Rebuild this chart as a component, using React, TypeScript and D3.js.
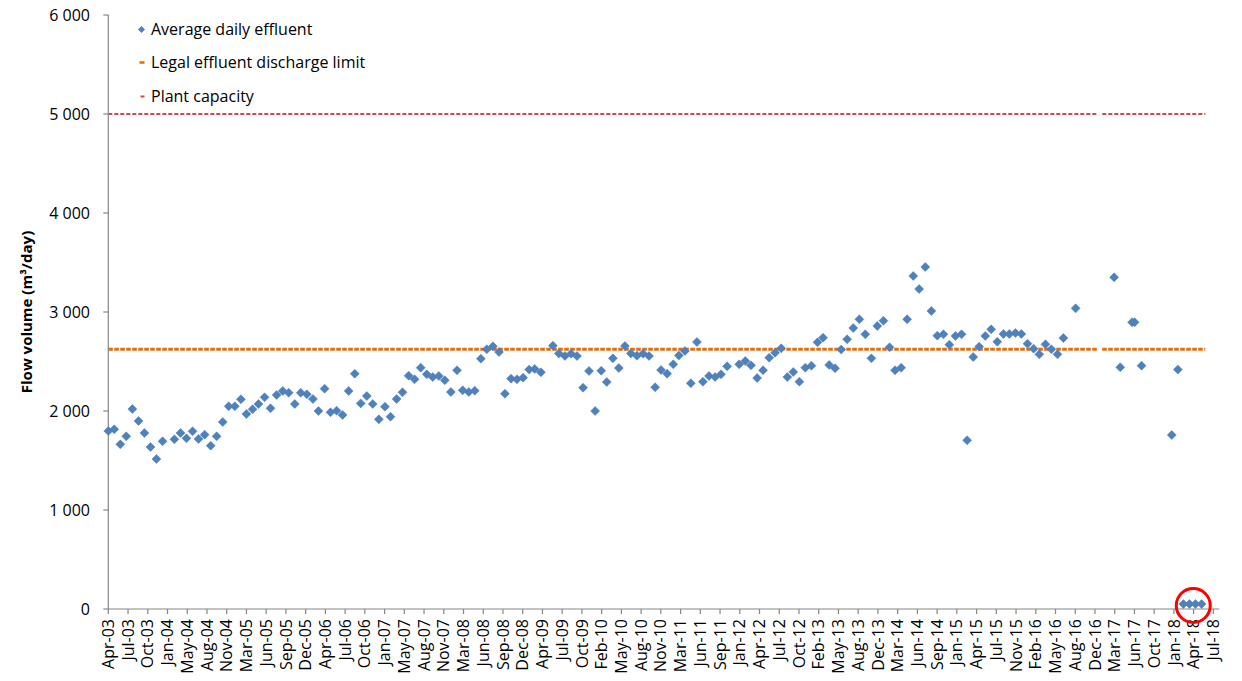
import React from "react";
import * as d3 from "d3";

// ---------- data ----------
const effluentDates = [
  "2003-04-01","2003-05-01","2003-06-01","2003-07-01","2003-08-01","2003-09-01","2003-10-01","2003-11-01","2003-12-01",
  "2004-01-01","2004-03-01","2004-04-01","2004-05-01","2004-06-01","2004-07-01","2004-08-01","2004-09-01","2004-10-01","2004-11-01","2004-12-01",
  "2005-01-01","2005-02-01","2005-03-01","2005-04-01","2005-05-01","2005-06-01","2005-07-01","2005-08-01","2005-09-01","2005-10-01","2005-11-01","2005-12-01",
  "2006-01-01","2006-02-01","2006-03-01","2006-04-01","2006-05-01","2006-06-01","2006-07-01","2006-08-01","2006-09-01","2006-10-01","2006-11-01","2006-12-01",
  "2007-01-01","2007-02-01","2007-03-01","2007-04-01","2007-05-01","2007-06-01","2007-07-01","2007-08-01","2007-09-01","2007-10-01","2007-11-01","2007-12-01",
  "2008-01-01","2008-02-01","2008-03-01","2008-04-01","2008-05-01","2008-06-01","2008-07-01","2008-08-01","2008-09-01","2008-10-01","2008-11-01","2008-12-01",
  "2009-01-01","2009-02-01","2009-03-01","2009-04-01","2009-06-01","2009-07-01","2009-08-01","2009-09-01","2009-10-01","2009-11-01","2009-12-01",
  "2010-01-01","2010-02-01","2010-03-01","2010-04-01","2010-05-01","2010-06-01","2010-07-01","2010-08-01","2010-09-01","2010-10-01","2010-11-01","2010-12-01",
  "2011-01-01","2011-02-01","2011-03-01","2011-04-01","2011-05-01","2011-06-01","2011-07-01","2011-08-01","2011-09-01","2011-10-01","2011-11-01",
  "2012-01-01","2012-02-01","2012-03-01","2012-04-01","2012-05-01","2012-06-01","2012-07-01","2012-08-01","2012-09-01","2012-10-01","2012-11-01","2012-12-01",
  "2013-01-01","2013-02-01","2013-03-01","2013-04-01","2013-05-01","2013-06-01","2013-07-01","2013-08-01","2013-09-01","2013-10-01","2013-11-01","2013-12-01",
  "2014-01-01","2014-02-01","2014-03-01","2014-04-01","2014-05-01","2014-06-01","2014-07-01","2014-08-01","2014-09-01","2014-10-01","2014-11-01","2014-12-01",
  "2015-01-01","2015-02-01","2015-03-01","2015-04-01","2015-05-01","2015-06-01","2015-07-01","2015-08-01","2015-09-01","2015-10-01","2015-11-01","2015-12-01",
  "2016-01-01","2016-02-01","2016-03-01","2016-04-01","2016-05-01","2016-06-01","2016-07-01","2016-09-01",
  "2017-03-15","2017-04-15","2017-06-14","2017-06-27","2017-08-01",
  "2018-01-01","2018-02-01","2018-03-01","2018-04-01","2018-05-01","2018-06-01",
];

const effluentValues = [
  1798, 1815, 1663, 1744, 2020, 1899, 1778, 1636, 1515,
  1694, 1714, 1778, 1724, 1795, 1717, 1761, 1650, 1744, 1889, 2047,
  2047, 2118, 1970, 2017, 2071, 2138, 2027, 2162, 2202, 2185, 2071, 2185,
  2168, 2121, 2000, 2226, 1987, 2003, 1960, 2202, 2377, 2077, 2151, 2071,
  1916, 2044, 1943, 2121, 2189, 2357, 2320, 2438, 2370, 2343, 2354, 2310,
  2192, 2411, 2209, 2192, 2205, 2529, 2623, 2653, 2596, 2175, 2327, 2320,
  2337, 2418, 2424, 2391, 2660, 2582, 2556, 2579, 2556, 2236, 2404,
  2000, 2407, 2293, 2532, 2434, 2657, 2582, 2559, 2579, 2556, 2239, 2414,
  2377, 2471, 2560, 2606, 2280, 2697, 2296, 2354, 2343, 2370, 2451,
  2471, 2505, 2461, 2333, 2411, 2539, 2589, 2633, 2343, 2394, 2296, 2438,
  2458, 2694, 2741, 2465, 2431, 2620, 2724, 2838, 2926, 2775, 2532, 2859,
  2912, 2643, 2411, 2438, 2926, 3364, 3232, 3455, 3010, 2761, 2775, 2670,
  2758, 2775, 1704, 2545, 2650, 2758, 2825, 2700, 2778, 2778, 2788, 2778,
  2680, 2630, 2572, 2673, 2623, 2572, 2737, 3037,
  3350, 2441, 2896, 2896, 2458,
  1758, 2418, 50, 50, 50, 50,
];

const xTickLabels = [
  "Apr-03","Jul-03","Oct-03","Jan-04","May-04","Aug-04","Nov-04","Mar-05","Jun-05","Sep-05",
  "Dec-05","Apr-06","Jul-06","Oct-06","Jan-07","May-07","Aug-07","Nov-07","Mar-08","Jun-08",
  "Sep-08","Dec-08","Apr-09","Jul-09","Oct-09","Feb-10","May-10","Aug-10","Nov-10","Mar-11",
  "Jun-11","Sep-11","Jan-12","Apr-12","Jul-12","Oct-12","Feb-13","May-13","Aug-13","Dec-13",
  "Mar-14","Jun-14","Sep-14","Jan-15","Apr-15","Jul-15","Nov-15","Feb-16","May-16","Aug-16",
  "Dec-16","Mar-17","Jun-17","Oct-17","Jan-18","Apr-18","Jul-18",
];
const xAxisStart = "2003-04-01";
const xAxisEnd = "2018-08-30";
const xTickStepDays = 100;

const yTickValues = [0, 1000, 2000, 3000, 4000, 5000, 6000];

const legalLimit = 2625;
const plantCapacity = 5000;
const referencePeriods = [
  ["2003-04-01", "2016-12-20"],
  ["2017-01-14", "2018-06-20"],
];

const highlight = { date: "2018-04-20", value: 35 };

const legendLabels = ["Average daily effluent", "Legal effluent discharge limit", "Plant capacity"];

// ---------- styles ----------
const W = 1242;
const H = 681;
const M = { left: 108.3, right: 1219.3, top: 15, bottom: 609 };
const FONT = "'Open Sans', 'Liberation Sans', Arial, sans-serif";
const AXIS = "#868686";
const BLUE = "#4F81BD";
const ORANGE = "#E46C0A";
const RED = "#C0504D";

const parse = d3.utcParse("%Y-%m-%d");

export default function App() {
  const x = d3
    .scaleUtc()
    .domain([parse(xAxisStart)!, parse(xAxisEnd)!])
    .range([M.left, M.right]);
  const y = d3.scaleLinear().domain([0, 6000]).range([M.bottom, M.top]);

  const start = parse(xAxisStart)!;
  const xTicks = xTickLabels.map((label, i) => ({
    label,
    date: d3.utcDay.offset(start, i * xTickStepDays),
  }));

  const points = effluentDates.map((d, i) => ({ date: parse(d)!, value: effluentValues[i] }));

  const fmtY = (v: number) => (v >= 1000 ? d3.format(",")(v).replace(/,/g, " ") : String(v));

  const refLine = (value: number) =>
    referencePeriods.map((p) =>
      d3
        .line<Date>()
        .x((d) => x(d))
        .y(() => y(value))(p.map((s) => parse(s)!))
    );

  const diamond = (r: number) => `M0,${-r}L${r},0L0,${r}L${-r},0Z`;

  const legendY = [29.5, 62.5, 96.5];

  return (
    <svg
      width={W}
      height={H}
      style={{ position: "absolute", left: 0, top: 0, background: "#fff" }}
      fontFamily={FONT}
    >
      <rect x={0} y={0} width={W} height={H} fill="#fff" />

      {/* reference lines */}
      {refLine(plantCapacity).map((d, i) => (
        <path key={"cap" + i} d={d ?? ""} fill="none" stroke={RED} strokeWidth={2} strokeDasharray="4,2" />
      ))}
      {refLine(legalLimit).map((d, i) => (
        <path key={"lim" + i} d={d ?? ""} fill="none" stroke={ORANGE} strokeWidth={3} strokeDasharray="4.5,1.5" />
      ))}

      {/* y axis */}
      <line x1={M.left} x2={M.left} y1={M.top} y2={M.bottom} stroke={AXIS} strokeWidth={1.2} />
      {yTickValues.map((v) => (
        <g key={v}>
          <line x1={M.left - 5} x2={M.left} y1={y(v)} y2={y(v)} stroke={AXIS} strokeWidth={1.2} />
          <text x={90} y={y(v)} dy="0.35em" textAnchor="end" fontSize={16} fill="#000">
            {fmtY(v)}
          </text>
        </g>
      ))}
      <text
        transform={`translate(27, ${(M.top + M.bottom) / 2}) rotate(-90)`}
        textAnchor="middle"
        dy="0.35em"
        fontSize={15}
        fontWeight="bold"
        fill="#000"
      >
        Flow volume (m³/day)
      </text>

      {/* x axis */}
      <line x1={M.left} x2={M.right} y1={M.bottom} y2={M.bottom} stroke={AXIS} strokeWidth={1.2} />
      {xTicks.map((t) => (
        <g key={t.label} transform={`translate(${x(t.date)},0)`}>
          <line x1={0} x2={0} y1={M.bottom} y2={M.bottom + 5} stroke={AXIS} strokeWidth={1.2} />
          <text
            transform={`translate(0, ${M.bottom + 10}) rotate(-90)`}
            textAnchor="end"
            dy="0.35em"
            fontSize={16}
            fill="#000"
          >
            {t.label}
          </text>
        </g>
      ))}

      {/* effluent points */}
      {points.map((p, i) => (
        <path
          key={i}
          d={diamond(4.5)}
          transform={`translate(${x(p.date)},${y(p.value)})`}
          fill={BLUE}
          stroke="#4A7EBB"
          strokeWidth={0.5}
        />
      ))}

      {/* highlight circle */}
      <circle
        cx={x(parse(highlight.date)!)}
        cy={y(highlight.value)}
        r={17}
        fill="none"
        stroke="#FF0000"
        strokeWidth={3}
      />

      {/* legend */}
      <g>
        <path d={diamond(3.5)} transform={`translate(141.5,${legendY[0]})`} fill={BLUE} />
        <line x1={139.5} x2={144.5} y1={legendY[1]} y2={legendY[1]} stroke={ORANGE} strokeWidth={2.5} />
        <line x1={140.5} x2={144.5} y1={legendY[2]} y2={legendY[2]} stroke={RED} strokeWidth={2} />
        {legendLabels.map((l, i) => (
          <text key={l} x={151} y={legendY[i]} dy="0.35em" fontSize={16} fill="#000">
            {l}
          </text>
        ))}
      </g>
    </svg>
  );
}
